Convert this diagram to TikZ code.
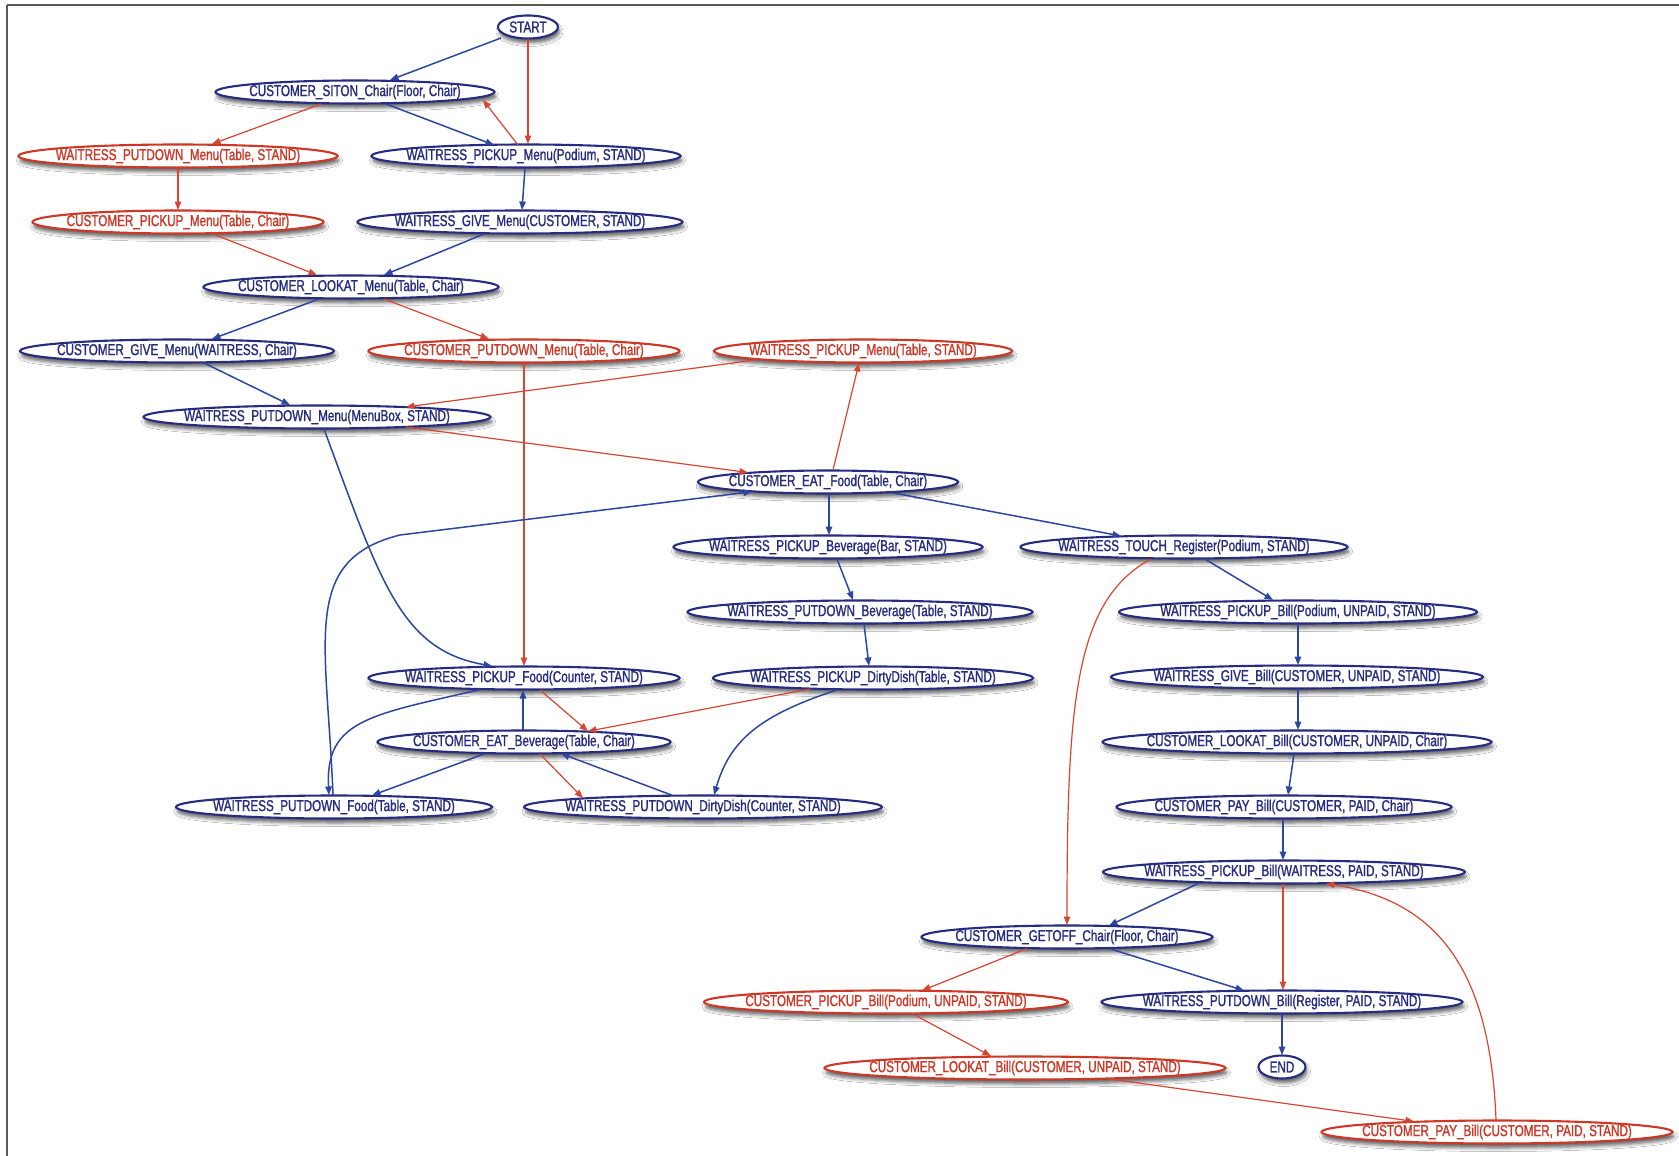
\documentclass[tikz,border=0pt]{standalone}
\usepackage{fontspec}
\setmainfont{Liberation Sans}[FakeStretch=0.74,FakeBold=1.2]
\usetikzlibrary{shapes.geometric,arrows.meta,calc,shadows.blur}
\definecolor{nblue}{RGB}{38,44,128}
\definecolor{eblue}{RGB}{45,70,160}
\definecolor{nred}{RGB}{205,55,38}
\definecolor{ered}{RGB}{215,70,50}
\definecolor{framegray}{RGB}{90,90,90}
\begin{document}
\begin{tikzpicture}[x=1pt,y=-1pt,
 base/.style={ellipse, fill=white, line width=2.1pt, inner xsep=-40pt, inner ysep=0pt,
   minimum height=23pt, font=\fontsize{15.8}{17}\selectfont,
   blur shadow={shadow xshift=1.5pt, shadow yshift=-4.5pt, shadow blur radius=3.5pt, shadow opacity=60}},
 bn/.style={base, draw=nblue, text=nblue},
 rn/.style={base, draw=nred, text=nred},
 be/.style={draw=eblue, line width=1.5pt, -{Triangle[length=8.5pt,width=6.5pt]}},
 re/.style={draw=ered, line width=1.2pt, -{Triangle[length=8.5pt,width=6.5pt]}},
]
\useasboundingbox (0,0) rectangle (1679,1156);
\fill[white] (0,0) rectangle (1679,1156);
\draw[framegray, line width=2.2pt] (7,5) -- (1679,5);
\draw[framegray, line width=2.2pt] (7,5) -- (7,1156);

% nodes
\node[bn, minimum width=60pt] (nstart) at (528,27) {START};
\node[bn, minimum width=279pt] (siton) at (355,92) {CUSTOMER\_SITON\_Chair(Floor, Chair)};
\node[rn, minimum width=319pt] (wputm) at (178,156) {WAITRESS\_PUTDOWN\_Menu(Table, STAND)};
\node[bn, minimum width=309pt] (wpickm) at (526,156) {WAITRESS\_PICKUP\_Menu(Podium, STAND)};
\node[rn, minimum width=291pt] (cpickm) at (178,222) {CUSTOMER\_PICKUP\_Menu(Table, Chair)};
\node[bn, minimum width=325pt] (wgivem) at (520,222) {WAITRESS\_GIVE\_Menu(CUSTOMER, STAND)};
\node[bn, minimum width=295pt] (clookm) at (351,287) {CUSTOMER\_LOOKAT\_Menu(Table, Chair)};
\node[bn, minimum width=314pt] (cgivem) at (177,351) {CUSTOMER\_GIVE\_Menu(WAITRESS, Chair)};
\node[rn, minimum width=311pt] (cputm) at (524,351) {CUSTOMER\_PUTDOWN\_Menu(Table, Chair)};
\node[rn, minimum width=298pt] (wpickmt) at (863,351) {WAITRESS\_PICKUP\_Menu(Table, STAND)};
\node[bn, minimum width=347pt] (wputmb) at (317,417) {WAITRESS\_PUTDOWN\_Menu(MenuBox, STAND)};
\node[bn, minimum width=260pt] (ceatf) at (828,482) {CUSTOMER\_EAT\_Food(Table, Chair)};
\node[bn, minimum width=309pt] (wpickbev) at (828,547) {WAITRESS\_PICKUP\_Beverage(Bar, STAND)};
\node[bn, minimum width=327pt] (wtouch) at (1184,547) {WAITRESS\_TOUCH\_Register(Podium, STAND)};
\node[bn, minimum width=345pt] (wputbev) at (860,612) {WAITRESS\_PUTDOWN\_Beverage(Table, STAND)};
\node[bn, minimum width=358pt] (wpickbill) at (1298,612) {WAITRESS\_PICKUP\_Bill(Podium, UNPAID, STAND)};
\node[bn, minimum width=311pt] (wpickfood) at (524,678) {WAITRESS\_PICKUP\_Food(Counter, STAND)};
\node[bn, minimum width=320pt] (wpickdd) at (873,678) {WAITRESS\_PICKUP\_DirtyDish(Table, STAND)};
\node[bn, minimum width=372pt] (wgivebill) at (1297,677) {WAITRESS\_GIVE\_Bill(CUSTOMER, UNPAID, STAND)};
\node[bn, minimum width=293pt] (ceatbev) at (524,742) {CUSTOMER\_EAT\_Beverage(Table, Chair)};
\node[bn, minimum width=389pt] (clookbill) at (1297,742) {CUSTOMER\_LOOKAT\_Bill(CUSTOMER, UNPAID, Chair)};
\node[bn, minimum width=316pt] (wputfood) at (334,807) {WAITRESS\_PUTDOWN\_Food(Table, STAND)};
\node[bn, minimum width=358pt] (wputdd) at (703,807) {WAITRESS\_PUTDOWN\_DirtyDish(Counter, STAND)};
\node[bn, minimum width=335pt] (cpaybill) at (1284,807) {CUSTOMER\_PAY\_Bill(CUSTOMER, PAID, Chair)};
\node[bn, minimum width=362pt] (wpickbillw) at (1284,872) {WAITRESS\_PICKUP\_Bill(WAITRESS, PAID, STAND)};
\node[bn, minimum width=291pt] (cgetoff) at (1067,937) {CUSTOMER\_GETOFF\_Chair(Floor, Chair)};
\node[rn, minimum width=364pt] (cpickbill) at (886,1002) {CUSTOMER\_PICKUP\_Bill(Podium, UNPAID, STAND)};
\node[bn, minimum width=361pt] (wputbill) at (1282,1002) {WAITRESS\_PUTDOWN\_Bill(Register, PAID, STAND)};
\node[rn, minimum width=401pt] (clookbills) at (1025,1068) {CUSTOMER\_LOOKAT\_Bill(CUSTOMER, UNPAID, STAND)};
\node[bn, minimum width=47pt] (nend) at (1282,1067) {END};
\node[rn, minimum width=351pt] (cpaybills) at (1497,1132) {CUSTOMER\_PAY\_Bill(CUSTOMER, PAID, STAND)};

% edges
\draw[be] ($(nstart)+(-27,11)$) -- ($(siton)+(35,-12)$);
\draw[re] ($(nstart)+(0,12)$) -- ($(wpickm)+(2,-12)$);
\draw[re] ($(wpickm)+(-8,-11)$) -- ($(siton)+(128,8)$);
\draw[be] ($(siton)+(31,12)$) -- ($(wpickm)+(-32,-11)$);
\draw[re] ($(siton)+(-34,12)$) -- ($(wputm)+(34,-12)$);
\draw[re] ($(wputm)+(0,12)$) -- ($(cpickm)+(0,-12)$);
\draw[be] ($(wpickm)+(-1,12)$) -- ($(wgivem)+(2,-12)$);
\draw[re] ($(cpickm)+(35,12)$) -- ($(clookm)+(-34,-12)$);
\draw[be] ($(wgivem)+(-36,12)$) -- ($(clookm)+(33,-12)$);
\draw[be] ($(clookm)+(-32,12)$) -- ($(cgivem)+(35,-12)$);
\draw[re] ($(clookm)+(33,12)$) -- ($(cputm)+(-35,-12)$);
\draw[be] ($(cgivem)+(27,12)$) -- ($(wputmb)+(-27,-12)$);
\draw[re] ($(wpickmt)+(-108,9)$) -- ($(wputmb)+(89,-10)$);
\draw[re] ($(wputmb)+(89,10)$) -- ($(ceatf)+(-80,-9.5)$);
\draw[re] ($(ceatf)+(5,-12)$) -- ($(wpickmt)+(-4,12)$);
\draw[re] ($(cputm)+(0,12)$) -- ($(wpickfood)+(0,-12)$);
\draw[be] ($(wputmb)+(7,12)$) .. controls (380,580) and (400,650) .. ($(wpickfood)+(-32,-12)$);
\draw[be] ($(ceatf)+(1,12)$) -- ($(wpickbev)+(1,-12)$);
\draw[be] ($(ceatf)+(63,10.5)$) -- ($(wtouch)+(-63,-11)$);
\draw[be] ($(wpickbev)+(9,12)$) -- ($(wputbev)+(-7,-12)$);
\draw[be] ($(wputbev)+(4,12)$) -- ($(wpickdd)+(-4,-12)$);
\draw[be] ($(wtouch)+(20,11.5)$) -- ($(wpickbill)+(-25,-12)$);
\draw[re] ($(wtouch)+(-33,12)$) .. controls (1075,600) and (1067,700) .. ($(cgetoff)+(0,-12)$);
\draw[be] ($(wpickbill)+(0,12)$) -- ($(wgivebill)+(1,-12)$);
\draw[be] ($(wgivebill)+(1,12)$) -- ($(clookbill)+(1,-12)$);
\draw[be] ($(clookbill)+(-3,12)$) -- ($(cpaybill)+(4,-12)$);
\draw[be] ($(cpaybill)+(-1,12)$) -- ($(wpickbillw)+(-1,-12)$);
\draw[be] ($(wpickbillw)+(-84,10.6)$) -- ($(cgetoff)+(42,-11.5)$);
\draw[re] ($(wpickbillw)+(-1,12)$) -- ($(wputbill)+(1,-12)$);
\draw[be] ($(cgetoff)+(42,11.5)$) -- ($(wputbill)+(-38,-11.5)$);
\draw[re] ($(cgetoff)+(-40,11.5)$) -- ($(cpickbill)+(36,-11.5)$);
\draw[be] ($(wputbill)+(0,12)$) -- ($(nend)+(0,-12)$);
\draw[re] ($(cpickbill)+(26,11.5)$) -- ($(clookbills)+(-34,-12)$);
\draw[re] ($(clookbills)+(84,10.9)$) -- ($(cpaybills)+(-83,-10.6)$);
\draw[re] ($(cpaybills)+(-1,-12)$) .. controls (1490,960) and (1430,900) .. ($(wpickbillw)+(42,11.5)$);
\draw[re] ($(wpickfood)+(16,12)$) -- ($(ceatbev)+(64,-10.8)$);
\draw[re] ($(wpickdd)+(-63,11)$) -- ($(ceatbev)+(64,-10.8)$);
\draw[be] ($(ceatbev)+(-1,-12)$) -- ($(wpickfood)+(-1,12)$);
\draw[be] ($(wpickfood)+(-44,11.6)$) .. controls (370,715) and (325,720) .. ($(wputfood)+(-5,-12)$);
\draw[be] ($(wputfood)+(-1,-12)$) .. controls (327,640) and (300,560) .. (400,535) -- ($(ceatf)+(-76,9.7)$);
\draw[be] ($(ceatbev)+(-39,11.6)$) -- ($(wputfood)+(38,-11.6)$);
\draw[re] ($(ceatbev)+(16,12)$) -- ($(wputdd)+(-120,-8.9)$);
\draw[be] ($(wputdd)+(-31,-11.8)$) -- ($(ceatbev)+(37,11.6)$);
\draw[be] ($(wpickdd)+(-35,11.6)$) .. controls (760,715) and (730,740) .. ($(wputdd)+(11,-12)$);
\end{tikzpicture}
\end{document}
